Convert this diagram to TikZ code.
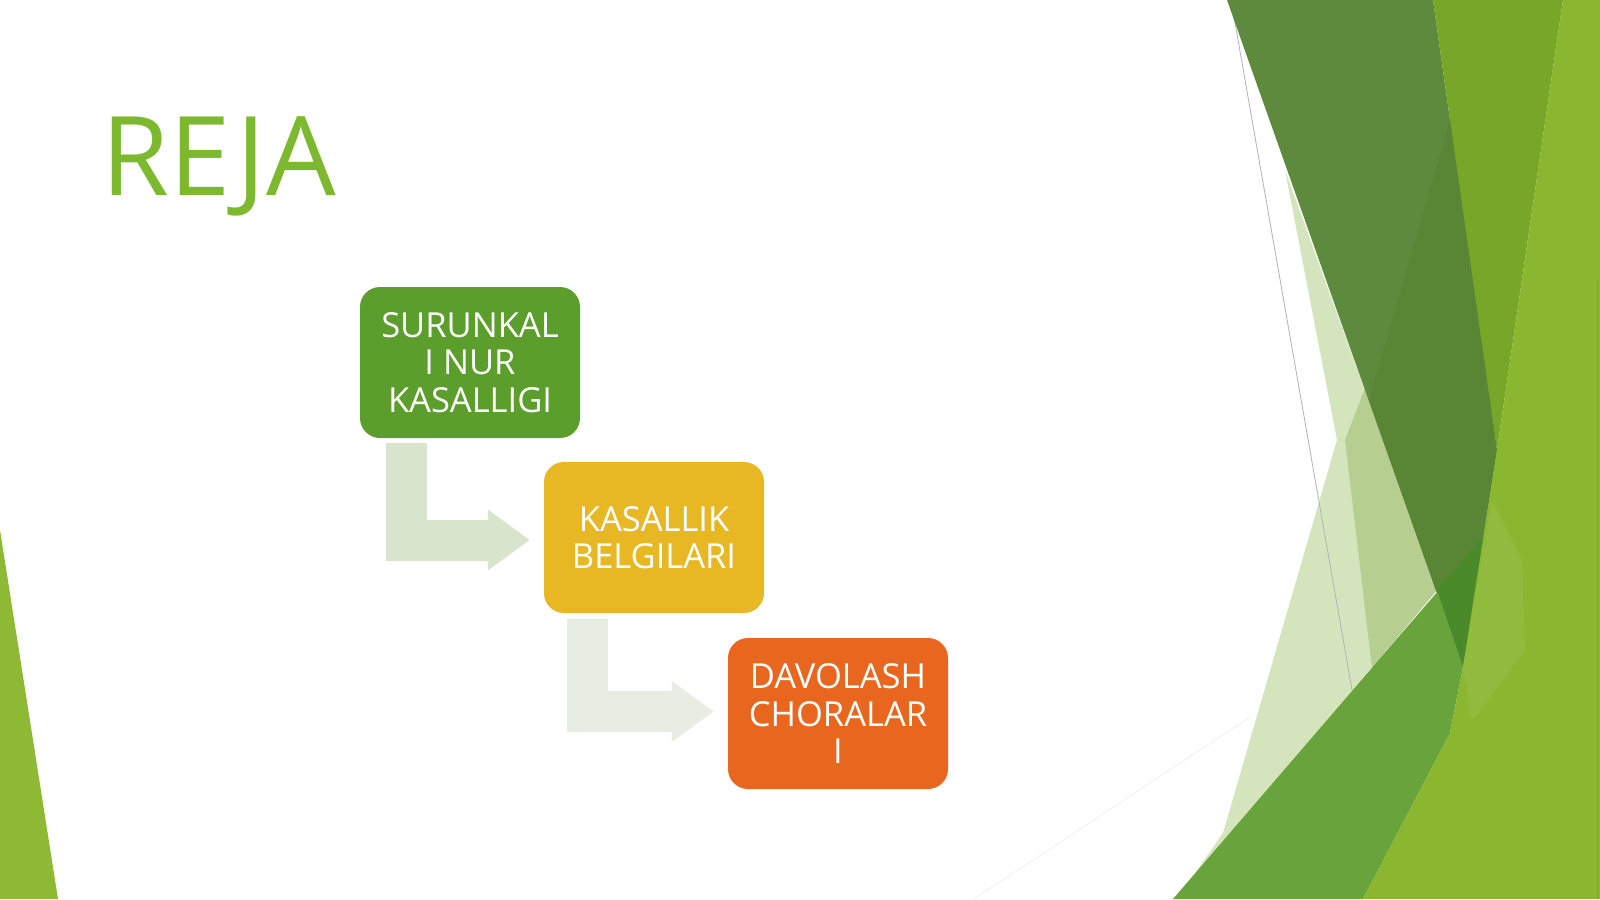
\documentclass[tikz,border=0pt]{standalone}
\usepackage{fontspec}
\setmainfont{Open Sans}
\usetikzlibrary{arrows.meta,calc}
\definecolor{titlegreen}{RGB}{124,185,46}
\definecolor{boxgreen}{RGB}{92,158,44}
\definecolor{boxyellow}{RGB}{232,184,36}
\definecolor{boxorange}{RGB}{232,102,30}
\definecolor{arrowA}{RGB}{216,229,204}
\definecolor{arrowB}{RGB}{232,237,227}
\definecolor{bandDark}{RGB}{94,138,62}
\definecolor{bandDarkB}{RGB}{88,134,52}
\definecolor{bandOlive}{RGB}{120,166,40}
\definecolor{bandRight}{RGB}{138,183,47}
\definecolor{bandMid}{RGB}{105,163,59}
\definecolor{bandOverlap}{RGB}{75,138,43}
\definecolor{lightA}{RGB}{212,229,190}
\definecolor{lightB}{RGB}{182,207,145}
\definecolor{patch}{RGB}{156,195,92}
\definecolor{leftTri}{RGB}{141,185,52}
\tikzset{
  stepbox/.style={rounded corners=20pt, minimum width=220pt, minimum height=151pt,
    inner sep=0pt, align=center, text=white,
    font=\fontsize{34.5}{37.5}\selectfont},
  flowarrow/.style={line width=41pt, -{Triangle[length=42pt,width=58pt]}},
}
\begin{document}
\begin{tikzpicture}[x=1pt,y=-1pt]
\useasboundingbox (0,0) rectangle (1600,899);
\fill[white] (0,0) rectangle (1600,899);

% left decorative triangle
\fill[leftTri] (0,530) -- (58,899) -- (0,899) -- cycle;

% right decorative shapes
\fill[lightA] (1285,170) -- (1337,440) -- (1223,833) -- (1180,895) -- (1437,590) -- cycle;
\fill[lightB] (1365,388) -- (1345,440) -- (1372,668) -- (1437,590) -- cycle;
\draw[gray!60, line width=0.8pt] (1231,0) -- (1352,690);
\draw[gray!15, line width=0.6pt] (1250,717) -- (974,899);
\fill[bandDark] (1227,0) -- (1433,0) -- (1497,450) -- (1463,667) -- cycle;
\fill[bandDarkB] (1453,110) -- (1497,450) -- (1463,667) -- (1369,400) -- cycle;
\fill[bandMid] (1173,899) -- (1488,533) -- (1463,667) -- (1450,733) -- (1363,899) -- cycle;
\fill[bandOverlap] (1437,590) -- (1484,536) -- (1463,667) -- cycle;
\fill[bandOlive] (1433,0) -- (1563,0) -- (1497,450) -- cycle;
\fill[bandRight] (1563,0) -- (1600,0) -- (1600,899) -- (1363,899) -- (1450,733)
  -- (1463,667) -- (1497,450) -- cycle;
\fill[patch, opacity=0.35] (1492,500) -- (1522,560) -- (1525,650) -- (1472,722)
  -- (1463,667) -- cycle;
\draw[bandOlive!80!bandRight, line width=1pt] (1597,280) -- (1597,899);

% title
\node[anchor=base west, inner sep=0pt, text=titlegreen,
  font=\fontsize{110}{110}\selectfont] (title) at (101,195) {REJA};

% boxes
\node[stepbox, fill=boxgreen]  (b1) at (470,362.5) {SURUNKAL\\I NUR\\KASALLIGI};
\node[stepbox, fill=boxyellow] (b2) at (654,537.5) {KASALLIK\\BELGILARI};
\node[stepbox, fill=boxorange] (b3) at (838,713.5) {DAVOLASH\\CHORALAR\\I};

% connectors
\draw[flowarrow, draw=arrowA]
  ($(b1.south west)+(46.5,5)$) |- ($(b2.west)+(-14,2.5)$);
\draw[flowarrow, draw=arrowB]
  ($(b2.south west)+(44,6)$) |- ($(b3.west)+(-14,-2)$);
\end{tikzpicture}
\end{document}
